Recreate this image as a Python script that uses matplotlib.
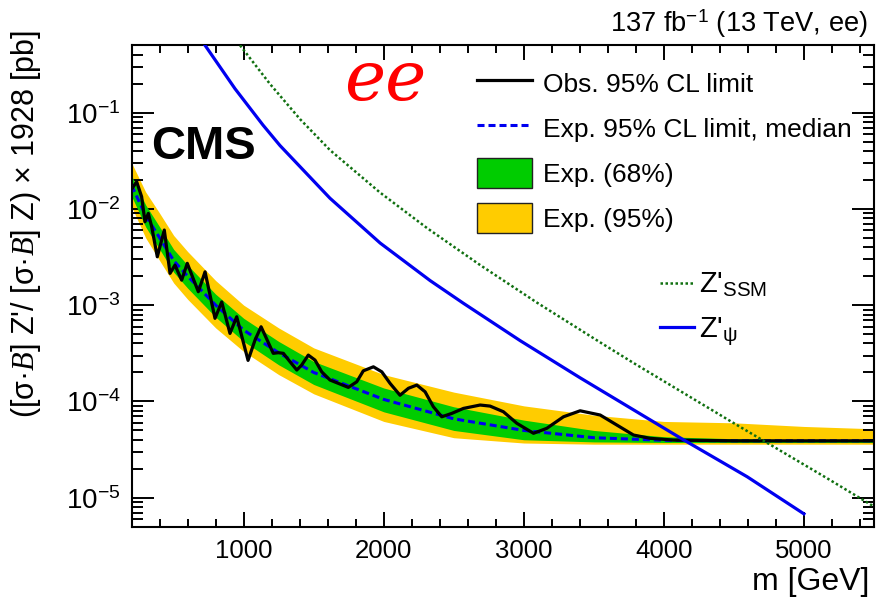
import matplotlib
matplotlib.use("Agg")
import matplotlib.pyplot as plt
from matplotlib.lines import Line2D
from matplotlib.patches import Patch
from matplotlib.ticker import MultipleLocator, NullFormatter

plt.rcParams['font.family'] = ['Liberation Sans', 'DejaVu Sans']
plt.rcParams['mathtext.fontset'] = 'custom'
plt.rcParams['mathtext.rm'] = 'Liberation Sans'
plt.rcParams['mathtext.it'] = 'Liberation Serif:italic'
plt.rcParams['mathtext.bf'] = 'Liberation Sans:bold'

# expected limit and bands
exp_mass = [200, 300, 400, 500, 600, 800, 1000, 1250, 1500, 2000, 2500, 3000, 3500, 4000, 4500, 5000, 5500]
exp_median = [1.75e-2, 8.5e-3, 5.0e-3, 2.9e-3, 2.0e-3, 1.0e-3, 5.5e-4, 3.2e-4, 2.0e-4, 1.05e-4, 6.6e-5, 5.0e-5, 4.2e-5, 3.95e-5, 3.9e-5, 3.9e-5, 3.9e-5]
exp_up95 = [3.0e-2, 1.5e-2, 9.0e-3, 5.3e-3, 3.6e-3, 1.8e-3, 1.0e-3, 5.8e-4, 3.6e-4, 1.9e-4, 1.25e-4, 9.0e-5, 7.2e-5, 6.2e-5, 6.0e-5, 5.5e-5, 5.2e-5]
exp_up68 = [2.2e-2, 1.1e-2, 6.5e-3, 3.8e-3, 2.6e-3, 1.3e-3, 7.3e-4, 4.2e-4, 2.6e-4, 1.38e-4, 8.8e-5, 6.4e-5, 5.0e-5, 4.3e-5, 4.1e-5, 4.0e-5, 4.0e-5]
exp_dn68 = [1.35e-2, 6.5e-3, 3.8e-3, 2.2e-3, 1.5e-3, 7.5e-4, 4.2e-4, 2.4e-4, 1.5e-4, 7.8e-5, 5.0e-5, 4.0e-5, 3.8e-5, 3.75e-5, 3.75e-5, 3.75e-5, 3.75e-5]
exp_dn95 = [1.05e-2, 5.0e-3, 2.9e-3, 1.7e-3, 1.15e-3, 5.8e-4, 3.3e-4, 1.9e-4, 1.2e-4, 6.2e-5, 4.2e-5, 3.7e-5, 3.6e-5, 3.6e-5, 3.6e-5, 3.6e-5, 3.6e-5]

# observed limit
obs_mass = [200, 211, 236, 271, 295, 319, 343, 383, 433, 474, 509, 557, 597, 676, 724, 795, 843,
            902, 950, 1031, 1081, 1124, 1211, 1247, 1283, 1331, 1379, 1414, 1461, 1509, 1557, 1616,
            1676, 1747, 1807, 1854, 1926, 1986, 2045, 2116, 2176, 2236, 2295, 2354, 2414, 2486,
            2569, 2688, 2759, 2854, 2950, 3069, 3164, 3283, 3402, 3545, 3664, 3783, 3902, 4069,
            4500, 5500]
obs_limit = [1.6e-2, 1.70e-2, 1.91e-2, 1.34e-2, 7.35e-3, 8.98e-3, 6.52e-3, 3.18e-3, 6.03e-3, 2.14e-3,
             2.61e-3, 1.82e-3, 2.72e-3, 1.38e-3, 2.22e-3, 7.3e-4, 1.08e-3,
             5.09e-4, 7.58e-4, 2.67e-4, 4.35e-4, 5.97e-4, 3.16e-4, 3.21e-4, 3.16e-4, 2.58e-4, 2.12e-4,
             2.39e-4, 3.03e-4, 2.69e-4, 2.03e-4, 1.67e-4,
             1.54e-4, 1.40e-4, 1.60e-4, 2.08e-4, 2.29e-4, 2.03e-4, 1.54e-4, 1.16e-4, 1.37e-4, 1.48e-4,
             1.26e-4, 8.81e-5, 6.93e-5, 7.52e-5,
             8.47e-5, 9.18e-5, 8.95e-5, 7.82e-5, 5.93e-5, 4.67e-5, 5.26e-5, 6.93e-5, 8.0e-5, 7.23e-5,
             5.69e-5, 4.48e-5, 4.14e-5, 3.97e-5,
             3.9e-5, 3.9e-5]

# theory curves
psi_mass = [724, 938, 1138, 1259, 1616, 1974, 2331, 2567, 2974, 3402, 4116, 4595, 5000]
psi_xsec = [0.5, 0.177, 7.41e-2, 4.55e-2, 1.29e-2, 4.42e-3, 1.80e-3, 1.05e-3, 4.28e-4, 1.76e-4,
            4.19e-5, 1.65e-5, 6.8e-6]
ssm_mass = [974, 1188, 1402, 1616, 1973, 2309, 2688, 3095, 3545, 3781, 4495, 5166, 5500]
ssm_xsec = [0.5, 0.198, 8.56e-2, 4.08e-2, 1.48e-2, 6.32e-3, 2.61e-3, 1.06e-3, 4.11e-4, 2.52e-4,
            6.0e-5, 1.59e-5, 8.1e-6]

green = '#00CC00'
yellow = '#FFCC00'
blue = '#0000F0'
dkgreen = '#107010'

fig = plt.figure(figsize=(8.76, 6.01), dpi=100)
ax = fig.add_axes([0.1503, 0.1236, 0.8474, 0.801])

ax.fill_between(exp_mass, exp_dn95, exp_up95, color=yellow, lw=0, zorder=1)
ax.fill_between(exp_mass, exp_dn68, exp_up68, color=green, lw=0, zorder=2)
ax.plot(exp_mass, exp_median, color=blue, lw=2.2, ls=(0, (2.3, 1.3)), zorder=3)
ax.plot(obs_mass, obs_limit, color='black', lw=2.3, zorder=4)
ax.plot(ssm_mass, ssm_xsec, color=dkgreen, lw=1.8, ls=(0, (1, 1)), zorder=5)
ax.plot(psi_mass, psi_xsec, color=blue, lw=2.3, zorder=6)

ax.set_yscale('log')
ax.set_xlim(200, 5500)
ax.set_ylim(5e-6, 0.5)
ax.xaxis.set_major_locator(MultipleLocator(1000))
ax.xaxis.set_minor_locator(MultipleLocator(200))
ax.yaxis.set_minor_formatter(NullFormatter())
ax.tick_params(which='both', direction='in', top=True, right=True, width=1.4)
ax.tick_params(axis='x', which='major', length=11, labelsize=18.5, pad=9)
ax.tick_params(axis='x', which='minor', length=5.5)
ax.tick_params(axis='y', which='major', length=16, labelsize=20, pad=8)
ax.tick_params(axis='y', which='minor', length=8)
for sp in ax.spines.values():
    sp.set_linewidth(1.5)

fig.text(869/876, 1 - 590/601, 'm [GeV]', ha='right', va='baseline', fontsize=23)
fig.text(26/876, 1 - 30/601, r"([σ·$B$] Z'/ [σ·$B$] Z) × 1928 [pb]",
         rotation=90, ha='center', va='top', fontsize=22)
fig.text(868/876, 1 - 32/601, r'137 fb$^{-1}$ (13 TeV, ee)', ha='right', va='baseline', fontsize=19.6)
fig.text(151/876, 1 - 159/601, 'CMS', ha='left', va='baseline', fontsize=34, fontweight='bold')
fig.text(344/876, 1 - 100/601, 'ee', ha='left', va='baseline', fontsize=50, color='red',
         family='DejaVu Serif', style='italic')

h1 = [Line2D([], [], color='black', lw=2.3),
      Line2D([], [], color=blue, lw=2.2, ls=(0, (2.3, 1.3))),
      Patch(facecolor=green, edgecolor='#222222', lw=1),
      Patch(facecolor=yellow, edgecolor='#222222', lw=1)]
l1 = ['Obs. 95% CL limit', 'Exp. 95% CL limit, median', 'Exp. (68%)', 'Exp. (95%)']
leg1 = ax.legend(h1, l1, loc='upper left', bbox_to_anchor=(477/876, 1 - 68/601),
                 bbox_transform=fig.transFigure, frameon=False, fontsize=19,
                 handlelength=2.1, handleheight=1.4, handletextpad=0.4, labelspacing=0.55,
                 borderpad=0, borderaxespad=0)
ax.add_artist(leg1)

h2 = [Line2D([], [], color=dkgreen, lw=1.8, ls=(0, (1, 1))),
      Line2D([], [], color=blue, lw=2.3)]
l2 = [r"Z'$_{\mathrm{SSM}}$", r"Z'$_{\mathrm{ψ}}$"]
ax.legend(h2, l2, loc='upper left', bbox_to_anchor=(660/876, 1 - 271/601),
          bbox_transform=fig.transFigure, frameon=False, fontsize=21,
          handlelength=1.15, handletextpad=0.2, labelspacing=0.55,
          borderpad=0, borderaxespad=0)

fig.savefig('out.png', dpi=100)
